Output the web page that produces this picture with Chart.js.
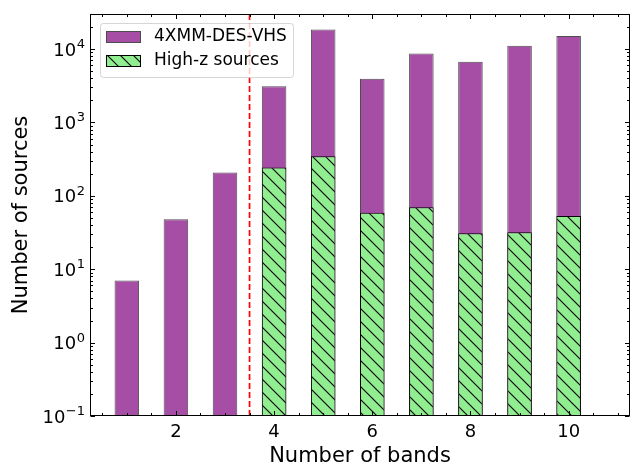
<!DOCTYPE html>
<html>
<head>
<meta charset="utf-8">
<script src="https://cdn.jsdelivr.net/npm/chart.js@4"></script>
<style>
  html, body { margin: 0; padding: 0; background: #fff; }
</style>
</head>
<body>
<canvas id="myChart" width="632" height="466"></canvas>
<script>
// data
const bands = [1, 2, 3, 4, 5, 6, 7, 8, 9, 10];
const allSources = [7, 48, 208, 3100, 18400, 3950, 8700, 6700, 11100, 15000];
const highzSources = [null, null, null, 244, 345, 59, 70, 31, 32, 53];
const seriesNames = ["4XMM-DES-VHS", "High-z sources"];
const xTicks = [2, 4, 6, 8, 10];
const yTicks = [0.1, 1, 10, 100, 1000, 10000];
const yTickExps = ["\u22121", "0", "1", "2", "3", "4"];
const cutBand = 3.5;

const FONT = "'DejaVu Sans', sans-serif";
const purple = "rgb(166, 77, 166)";
const green = "#90ee90";

// hatch '\\' pattern
function makeHatch() {
  const s = 13;
  const c = document.createElement("canvas");
  c.width = s; c.height = s;
  const g = c.getContext("2d");
  g.fillStyle = green;
  g.fillRect(0, 0, s, s);
  g.strokeStyle = "#000";
  g.lineWidth = 1.1;
  g.beginPath();
  g.moveTo(-2, -2); g.lineTo(s + 2, s + 2);
  g.moveTo(-2, s - 2); g.lineTo(2, s + 2);
  g.moveTo(s - 2, -2); g.lineTo(s + 2, 2);
  g.stroke();
  return g.createPattern(c, "repeat");
}
const ctx = document.getElementById("myChart").getContext("2d");
const hatch = makeHatch();

// spines, inward ticks, 10^n labels and legend box
const framePlugin = {
  id: "frame",
  afterDatasetsDraw(chart) {
    const { ctx, chartArea: a, scales: { x, y } } = chart;
    const L = Math.round(a.left) + 0.5, R = Math.round(a.right) - 0.5;
    const T = Math.round(a.top) + 0.5, B = Math.round(a.bottom) - 0.5;
    ctx.save();
    ctx.strokeStyle = "#000";
    ctx.lineWidth = 1;
    ctx.beginPath();
    // x ticks top and bottom
    for (let v = 0.5; v < x.max; v += 0.5) {
      if (v < x.min) continue;
      const px = Math.round(x.getPixelForValue(v)) + 0.5;
      const len = xTicks.includes(v) ? 4.5 : 2.5;
      ctx.moveTo(px, B); ctx.lineTo(px, B - len);
      ctx.moveTo(px, T); ctx.lineTo(px, T + len);
    }
    // y ticks left and right
    for (let e = -1; e <= 4; e++) {
      for (let k = 1; k <= 9; k++) {
        const v = k * Math.pow(10, e);
        if (v > y.max) break;
        const py = Math.round(y.getPixelForValue(v)) + 0.5;
        const len = k === 1 ? 4.5 : 2.5;
        ctx.moveTo(L, py); ctx.lineTo(L + len, py);
        ctx.moveTo(R, py); ctx.lineTo(R - len, py);
      }
    }
    ctx.stroke();
    ctx.strokeRect(L, T, R - L, B - T);

    // y tick labels as 10 with raised exponent
    ctx.fillStyle = "#000";
    ctx.textBaseline = "alphabetic";
    ctx.textAlign = "left";
    yTicks.forEach((v, i) => {
      const py = y.getPixelForValue(v);
      ctx.font = "13px " + FONT;
      const ew = ctx.measureText(yTickExps[i]).width;
      ctx.font = "18px " + FONT;
      const bw = ctx.measureText("10").width;
      const right = a.left - 5;
      ctx.fillText("10", right - ew - bw - 0.5, py + 6.5);
      ctx.font = "13px " + FONT;
      ctx.fillText(yTickExps[i], right - ew, py - 1);
    });

    // legend
    const lx = a.left + 10, ly = a.top + 9, lw = 193, lh = 54;
    ctx.fillStyle = "rgba(255,255,255,0.8)";
    ctx.strokeStyle = "rgba(204,204,204,0.8)";
    ctx.beginPath();
    ctx.roundRect(lx + 0.5, ly + 0.5, lw, lh, 3);
    ctx.fill(); ctx.stroke();
    const items = [
      { fill: purple, edge: "#4d4d4d", name: seriesNames[0], y: ly + 8 },
      { fill: hatch, edge: "#000", name: seriesNames[1], y: ly + 32 }
    ];
    ctx.font = "17px " + FONT;
    ctx.textBaseline = "middle";
    ctx.textAlign = "left";
    items.forEach(it => {
      ctx.fillStyle = it.fill;
      ctx.fillRect(lx + 6, it.y, 35, 12);
      ctx.strokeStyle = it.edge;
      ctx.strokeRect(lx + 6.5, it.y + 0.5, 34, 11);
      ctx.fillStyle = "#000";
      ctx.fillText(it.name, lx + 54, it.y + 6);
    });
    ctx.restore();
  }
};

new Chart(ctx, {
  type: "bar",
  data: {
    datasets: [
      {
        type: "line",
        data: [{ x: cutBand, y: 0.1 }, { x: cutBand, y: 30000 }],
        borderColor: "#ff0000",
        borderWidth: 1.7,
        borderDash: [6, 3],
        pointRadius: 0,
        order: 0
      },
      {
        label: seriesNames[1],
        data: bands.map((b, i) => ({ x: b, y: highzSources[i] })),
        backgroundColor: hatch,
        borderColor: "#000",
        borderWidth: 1,
        grouped: false,
        order: 1
      },
      {
        label: seriesNames[0],
        data: bands.map((b, i) => ({ x: b, y: allSources[i] })),
        backgroundColor: purple,
        borderColor: "#4d4d4d",
        borderWidth: 1,
        grouped: false,
        order: 2
      }
    ]
  },
  options: {
    responsive: false,
    animation: false,
    categoryPercentage: 1,
    barPercentage: 0.5,
    layout: { padding: { top: 14, right: 2, left: 0, bottom: 0 } },
    plugins: { legend: { display: false }, tooltip: { enabled: false } },
    scales: {
      x: {
        type: "linear",
        min: 0.25,
        max: 11.25,
        offset: false,
        grid: { display: false, drawTicks: false },
        border: { display: false },
        afterBuildTicks: s => { s.ticks = xTicks.map(v => ({ value: v })); },
        afterFit: s => { s.height = 50; },
        ticks: { color: "#000", padding: 6, font: { family: FONT, size: 18 } },
        title: { display: true, text: "Number of bands", color: "#000", padding: { top: 0, bottom: -3 }, font: { family: FONT, size: 21 } }
      },
      y: {
        type: "logarithmic",
        min: 0.1,
        max: 30000,
        grid: { display: false, drawTicks: false },
        border: { display: false },
        afterBuildTicks: s => { s.ticks = yTicks.map(v => ({ value: v })); },
        afterFit: s => { s.width = 90; },
        ticks: { display: false },
        title: { display: true, text: "Number of sources", color: "#000", padding: { top: 9, bottom: 0 }, font: { family: FONT, size: 21 } }
      }
    }
  },
  plugins: [framePlugin]
});
</script>
</body>
</html>
